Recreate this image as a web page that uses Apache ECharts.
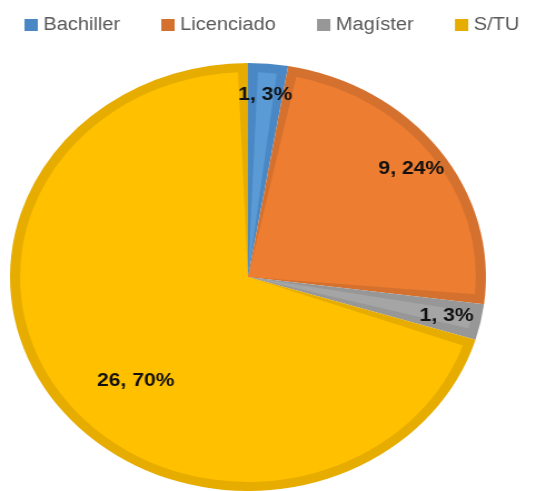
<!DOCTYPE html>
<html>
<head>
<meta charset="utf-8">
<script src="https://cdn.jsdelivr.net/npm/echarts@6/dist/echarts.min.js"></script>
<style>
    html, body { margin: 0; padding: 0; background: #fff; overflow: hidden; }
    /* la imagen original esta estirada en horizontal */
    #chart { width: 500px; height: 491px; transform: scaleX(1.112); transform-origin: 0 0; }
</style>
</head>
<body>
<div id="chart"></div>
<script>
    const categories = ['Bachiller', 'Licenciado', 'Magíster', 'S/TU'];
    const counts = [1, 9, 1, 26];
    const lightColors = ['#5B9BD5', '#ED7D31', '#A5A5A5', '#FFC000'];
    const darkColors = ['#4A88C5', '#D5712E', '#979797', '#E6AC00'];

    const center = [223, 277];
    const R = 214;

    function items (colors, showLabel) {
        return categories.map(function (name, i) {
            return {
                name: name,
                value: counts[i],
                itemStyle: { color: colors ? colors[i] : 'rgba(0,0,0,0)' },
                label: { show: showLabel ? showLabel(i) : false }
            };
        });
    }

    const labelStyle = {
        position: 'inside',
        formatter: '{c}, {d}%',
        color: '#111',
        fontFamily: 'Liberation Sans',
        fontWeight: 'bold',
        fontSize: 19
    };

    const chart = echarts.init(document.getElementById('chart'));
    chart.setOption({
        animation: false,
        legend: {
            data: categories,
            left: 17,
            top: 11,
            itemWidth: 12,
            itemHeight: 12,
            itemGap: 37,
            icon: 'rect',
            textStyle: { color: '#595959', fontFamily: 'Liberation Sans', fontSize: 18 }
        },
        series: [
            {
                // borde oscuro
                name: 'base',
                type: 'pie',
                center: center,
                radius: [0, R],
                startAngle: 90,
                silent: true,
                label: { show: false },
                labelLine: { show: false },
                data: items(darkColors)
            },
            {
                // relleno claro
                name: 'relleno',
                type: 'pie',
                center: center,
                radius: [0, R - 9],
                startAngle: 90,
                padAngle: 5,
                silent: true,
                label: { show: false },
                labelLine: { show: false },
                data: items(lightColors)
            },
            {
                name: 'etiquetas',
                type: 'pie',
                center: center,
                radius: [R * 0.68, R],
                startAngle: 90,
                silent: true,
                percentPrecision: 0,
                label: labelStyle,
                labelLine: { show: false },
                data: items(null, function (i) { return i < 3; })
            },
            {
                name: 'etiquetas2',
                type: 'pie',
                center: center,
                radius: [R * 0.61, R],
                startAngle: 90,
                silent: true,
                percentPrecision: 0,
                label: Object.assign({}, labelStyle, { padding: [0, 0, 0, 80] }),
                labelLine: { show: false },
                data: items(null, function (i) { return i === 3; })
            }
        ]
    });
</script>
</body>
</html>
